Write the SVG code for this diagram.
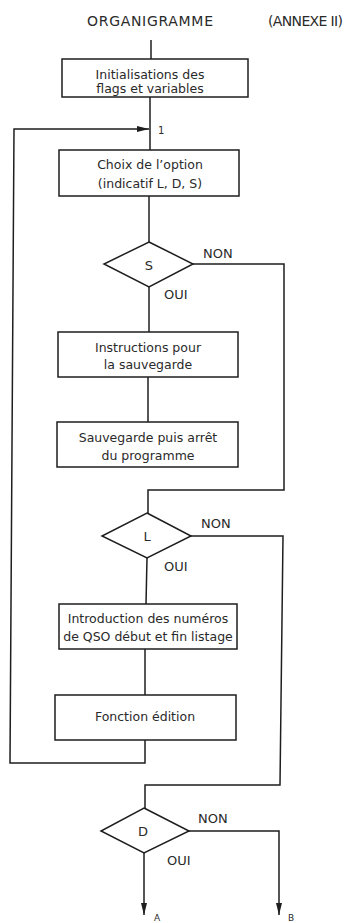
<svg xmlns="http://www.w3.org/2000/svg" width="355" height="923" viewBox="0 0 355 923">
<defs>
<marker id="arr" viewBox="0 0 12 6" refX="12" refY="3" markerWidth="12" markerHeight="6" markerUnits="userSpaceOnUse" orient="auto">
<path d="M0,0 L12,3 L0,6 Z" fill="#1e1e1e"/>
</marker>
</defs>
<style>
.ln{fill:none;stroke:#1e1e1e;stroke-width:1.5}
.bx{fill:#fff;stroke:#1e1e1e;stroke-width:1.5}
text{font-family:"DejaVu Sans","Liberation Sans",sans-serif;fill:#2a2a2a}
.t{font-size:12.5px;text-anchor:middle}
.lb{font-size:13px}
.ttl{font-size:14px}
</style>
<rect width="355" height="923" fill="#fff"/>
<text class="ttl" x="87" y="26" textLength="126">ORGANIGRAMME</text>
<text class="ttl" x="268" y="26" textLength="75">(ANNEXE II)</text>
<g id="connectors">
<path class="ln" d="M151,40 L151,59"/>
<path class="ln" d="M150,97 L150,150"/>
<path class="ln" d="M149,196 L149,242"/>
<path class="ln" d="M193,264 L284,264 L284,490 L148,490 L148,513"/>
<path class="ln" d="M149,287 L149,332"/>
<path class="ln" d="M148,377 L148,422"/>
<path class="ln" d="M191,536 L283,536 L280,785 L145,785 L145,808"/>
<path class="ln" d="M147,558 L146,604"/>
<path class="ln" d="M145,649 L145,695"/>
<path class="ln" d="M145,740 L145,763 L10,763 L14,129 L149,129" marker-end="url(#arr)"/>
<path class="ln" d="M144,853 L144,915" marker-end="url(#arr)"/>
<path class="ln" d="M189,831 L279,831 L279,915" marker-end="url(#arr)"/>
</g>
<text x="158" y="134" font-size="10">1</text>
<g id="init">
<rect class="bx" x="62" y="59" width="186" height="38"/>
<text class="t" x="150" y="79">Initialisations des</text>
<text class="t" x="150" y="93">flags et variables</text>
</g>
<g id="choix">
<rect class="bx" x="59" y="150" width="180" height="46"/>
<text class="t" x="150" y="169">Choix de l’option</text>
<text class="t" x="150" y="188">(indicatif L, D, S)</text>
</g>
<g id="decS">
<polygon class="bx" points="149,242 193,264 149,287 104,264"/>
<text class="lb" x="149" y="270" text-anchor="middle">S</text>
<text class="lb" x="203" y="258">NON</text>
<text class="lb" x="164" y="299">OUI</text>
</g>
<g id="instr">
<rect class="bx" x="58" y="332" width="180" height="45"/>
<text class="t" x="148" y="352">Instructions pour</text>
<text class="t" x="148" y="369">la sauvegarde</text>
</g>
<g id="sauve">
<rect class="bx" x="57" y="422" width="181" height="45"/>
<text class="t" x="148" y="442">Sauvegarde puis arrêt</text>
<text class="t" x="148" y="460">du programme</text>
</g>
<g id="decL">
<polygon class="bx" points="147,513 191,536 147,558 102,536"/>
<text class="lb" x="147" y="541" text-anchor="middle">L</text>
<text class="lb" x="201" y="528">NON</text>
<text class="lb" x="164" y="571">OUI</text>
</g>
<g id="intro">
<rect class="bx" x="59" y="604" width="178" height="45"/>
<text class="t" x="148" y="623">Introduction des numéros</text>
<text class="t" x="148" y="641">de QSO début et fin listage</text>
</g>
<g id="edition">
<rect class="bx" x="55" y="695" width="181" height="45"/>
<text class="t" x="145" y="721">Fonction édition</text>
</g>
<g id="decD">
<polygon class="bx" points="144,808 189,831 144,853 101,831"/>
<text class="lb" x="143" y="836" text-anchor="middle">D</text>
<text class="lb" x="198" y="823">NON</text>
<text class="lb" x="167" y="865">OUI</text>
</g>
<text x="154" y="921" font-size="9">A</text>
<text x="288" y="921" font-size="9">B</text>
</svg>
